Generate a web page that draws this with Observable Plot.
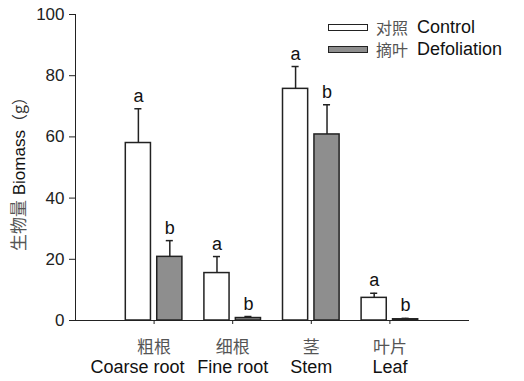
<!DOCTYPE html>
<html>
<head>
<meta charset="utf-8">
<script src="https://cdn.jsdelivr.net/npm/d3@7"></script>
<script src="https://cdn.jsdelivr.net/npm/@observablehq/plot@0.6"></script>
<style>
  body { margin: 0; background: #fff; font-family: "Liberation Sans", Arial, sans-serif; }
  #wrap { position: relative; width: 524px; height: 381px; }
  .lg { position: absolute; left: 328px; height: 18px; line-height: 18px; display: flex; align-items: center; font-size: 18px; color: #111; white-space: nowrap; }
  .lg .box { width: 38px; height: 5px; border: 1.5px solid #222; margin-right: 8px; }
  .lg .zh { font-family: "Noto Sans CJK SC", sans-serif; color: #555; margin-right: 9px; font-size: 16px; line-height: 18px; }
  #ylab { position: absolute; left: 19px; top: 170px; transform: translate(-50%, -50%) rotate(-90deg); white-space: nowrap; font-size: 17px; line-height: 18px; color: #111; }
  #ylab .zh { font-family: "Noto Sans CJK SC", sans-serif; color: #555; font-size: 17px; }
  #ylab .par { font-family: "Noto Sans CJK SC", sans-serif; color: #333; font-size: 16px; }
</style>
</head>
<body>
<div id="wrap"></div>
<script>
// ---- data ----
const categoriesZh = ["粗根", "细根", "茎", "叶片"];
const categoriesEn = ["Coarse root", "Fine root", "Stem", "Leaf"];
const seriesNames = ["对照 Control", "摘叶 Defoliation"];
const controlMean = [58, 15.5, 75.7, 7.4];
const controlErr = [11.2, 5.4, 7.3, 1.5];
const controlLetters = ["a", "a", "a", "a"];
const defolMean = [20.8, 0.8, 60.8, 0.4];
const defolErr = [5.3, 0.5, 9.7, 0.3];
const defolLetters = ["b", "b", "b", "b"];
const yTicks = [0, 20, 40, 60, 80, 100];
const yLabelZh = "生物量";
const yLabelEn = "Biomass";
const yLabelUnit = "（g）";

// ---- layout constants ----
const gap = 0.04, barW = 0.32, capHalf = 0.045;
const enLabelShift = [-0.21, 0, 0, 0];
const colors = ["#ffffff", "#8e8e8e"];

const rows = [];
categoriesEn.forEach((c, i) => {
  rows.push({i, g: 0, mean: controlMean[i], err: controlErr[i], letter: controlLetters[i],
             x1: i - gap - barW, x2: i - gap, xc: i - gap - barW / 2});
  rows.push({i, g: 1, mean: defolMean[i], err: defolErr[i], letter: defolLetters[i],
             x1: i + gap, x2: i + gap + barW, xc: i + gap + barW / 2});
});
const cats = categoriesEn.map((c, i) => ({i, zh: categoriesZh[i], en: c}));

const chart = Plot.plot({
  width: 524,
  height: 381,
  marginLeft: 75,
  marginRight: 56,
  marginTop: 14,
  marginBottom: 61,
  style: {fontFamily: "Liberation Sans, Arial, sans-serif", fontSize: "17px", color: "#222", background: "#fff"},
  x: {domain: [-1, 4], ticks: [0, 1, 2, 3], tickFormat: () => "", tickSize: 4, line: true, label: null},
  y: {domain: [0, 100], ticks: yTicks, tickSize: 6, tickPadding: 5, line: true, label: null},
  marks: [
    Plot.rectY(rows, {x1: "x1", x2: "x2", y1: 0, y2: "mean", fill: d => colors[d.g], stroke: "#222", strokeWidth: 1.5}),
    Plot.ruleX(rows, {x: "xc", y1: "mean", y2: d => d.mean + d.err, stroke: "#222", strokeWidth: 1.5}),
    Plot.ruleY(rows, {y: d => d.mean + d.err, x1: d => d.xc - capHalf, x2: d => d.xc + capHalf, stroke: "#222", strokeWidth: 1.5}),
    Plot.text(rows, {x: "xc", y: d => d.mean + d.err, text: "letter", lineAnchor: "bottom", dy: -7, fontSize: 18, fill: "#111"}),
    Plot.text(cats, {x: "i", y: 0, text: "zh", dy: 27, fontSize: 17, fill: "#555", fontFamily: "Noto Sans CJK SC, sans-serif"}),
    Plot.text(cats, {x: d => d.i + enLabelShift[d.i], y: 0, text: "en", dy: 47, fontSize: 18, fill: "#111"})
  ]
});

const wrap = document.getElementById("wrap");
wrap.appendChild(chart);
seriesNames.forEach((name, k) => {
  const [zh, en] = name.split(" ");
  const div = document.createElement("div");
  div.className = "lg";
  div.style.top = (k === 0 ? 18 : 40) + "px";
  div.innerHTML = `<span class="box" style="background:${colors[k]}"></span><span class="zh">${zh}</span><span>${en}</span>`;
  wrap.appendChild(div);
});
const yl = document.createElement("div");
yl.id = "ylab";
yl.innerHTML = `<span class="zh">${yLabelZh}</span> ${yLabelEn}<span class="par">${yLabelUnit}</span>`;
wrap.appendChild(yl);
</script>
</body>
</html>
